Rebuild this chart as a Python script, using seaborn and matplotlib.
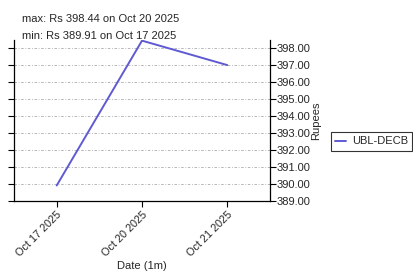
import matplotlib
matplotlib.use("Agg")
import matplotlib.pyplot as plt
import seaborn as sns
import pandas as pd

dates = ["Oct 17 2025", "Oct 20 2025", "Oct 21 2025"]
prices = [389.91, 398.44, 397.0]
series_name = "UBL-DECB"
yticks = [389, 390, 391, 392, 393, 394, 395, 396, 397, 398]

sns.set_theme(style="white")
plt.rcParams['font.family'] = ['Liberation Sans', 'DejaVu Sans']
plt.rcParams['font.size'] = 8

df = pd.DataFrame({"date": dates, "price": prices, "pos": range(len(dates))})

fig = plt.figure(figsize=(4.14, 2.73), dpi=100)
ax = fig.add_axes([0.034, 0.264, 0.618, 0.589])
sns.lineplot(data=df, x="pos", y="price", ax=ax, color="#5F5AD2", linewidth=1.4, label=series_name)

ax.set_xlim(-0.5, 2.5)
ax.set_ylim(389, 398.47)
ax.set_xticks(df["pos"])
ax.set_xticklabels(dates, rotation=45, ha="right", rotation_mode="anchor", fontsize=7.8)
ax.set_yticks(yticks)
ax.set_yticklabels([f"{v:.2f}" for v in yticks], fontsize=8)
ax.yaxis.tick_right()
ax.yaxis.set_label_position("right")
ax.tick_params(axis="y", which="both", left=True, right=True, direction="out", length=4, width=0.8, color="black", pad=1)
ax.tick_params(axis="x", bottom=True, direction="out", length=4, width=0.8, color="black", pad=2)
ax.set_ylabel("Rupees", fontsize=8, labelpad=0)
ax.set_xlabel("Date (1m)", fontsize=8, labelpad=2)
ax.grid(axis="y", color="#aaaaaa", linestyle=(0, (3, 2, 1, 2)), linewidth=0.6)
for s in ["left", "right", "bottom"]:
    ax.spines[s].set_color("black")
    ax.spines[s].set_linewidth(0.9)
ax.spines["top"].set_visible(False)

leg = ax.legend(loc="center left", bbox_to_anchor=(1.237, 0.37), frameon=True, fontsize=8,
                handlelength=1.0, handletextpad=0.5, borderpad=0.4, borderaxespad=0, fancybox=False)
leg.get_frame().set_edgecolor("black")
leg.get_frame().set_linewidth(0.8)

fig.text(0.053, 0.93, f"max: Rs {max(prices):.2f} on {dates[prices.index(max(prices))]}", fontsize=8, va="center")
fig.text(0.053, 0.868, f"min: Rs {min(prices):.2f} on {dates[prices.index(min(prices))]}", fontsize=8, va="center")

fig.savefig("out.png", dpi=100)
